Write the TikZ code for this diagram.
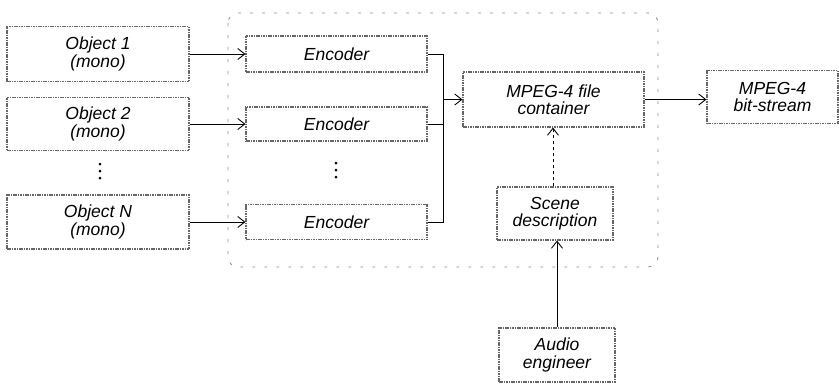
\documentclass[tikz,border=0pt]{standalone}
\usepackage{fontspec}
\setmainfont{Liberation Sans}
\usetikzlibrary{arrows.meta}
\begin{document}
\begin{tikzpicture}[x=1pt,y=-1pt,
  blk/.style={draw=black!60, line width=1.1pt, dash pattern=on 1.6pt off 0.8pt,
    rectangle, inner sep=0pt, align=center,
    font=\fontsize{17.5}{17.5}\selectfont\itshape},
  link/.style={draw=black, line width=0.9pt},
  arr/.style={link, -{Straight Barb[length=7pt,width=11pt,line width=0.9pt]}},
  grp/.style={draw=black!45, line width=0.8pt, dash pattern=on 3pt off 9pt, rounded corners=10pt},
  dot/.style={circle, fill=black, inner sep=0pt, minimum size=3pt}]
\useasboundingbox (0,0) rectangle (839,384);

% grouping frame around the encoding stage
\draw[grp] (228,13) rectangle (658,267);

% source objects
\node[blk, minimum width=182pt, minimum height=55pt] (obj1) at (98,54)  {Object 1\\(mono)};
\node[blk, minimum width=182pt, minimum height=53pt] (obj2) at (98,124) {Object 2\\(mono)};
\node[blk, minimum width=182pt, minimum height=54pt] (objN) at (98,222) {Object N\\(mono)};
\foreach \y [count=\i] in {164,171,178} \node[dot] (da\i) at (100,\y) {};

% encoders
\node[blk, minimum width=181pt, minimum height=36pt] (enc1) at (336.5,54)  {Encoder};
\node[blk, minimum width=181pt, minimum height=34pt] (enc2) at (336.5,124) {Encoder};
\node[blk, minimum width=181pt, minimum height=35pt] (encN) at (336.5,222) {Encoder};
\foreach \y [count=\i] in {163,170,177} \node[dot] (db\i) at (336,\y) {};

% container, output and scene
\node[blk, minimum width=181pt, minimum height=55pt] (cont) at (553.5,99.5) {MPEG-4 file\\container};
\node[blk, minimum width=131pt, minimum height=53pt] (bits) at (772.5,97) {MPEG-4\\bit-stream};
\node[blk, minimum width=116pt, minimum height=53pt] (scene) at (555,213.5) {Scene\\description};
\node[blk, minimum width=116pt, minimum height=54pt] (audio) at (557,355) {Audio\\engineer};

% connectors
\draw[arr] (obj1) -- (enc1);
\draw[arr] (obj2) -- (enc2);
\draw[arr] (objN) -- (encN);

\coordinate (bx) at (443,99.5);
\draw[link] (enc1.east) -| (bx);
\draw[link] (enc2.east) -| (bx);
\draw[link] (encN.east) -| (bx);
\draw[arr] (bx) -- (cont.west);

\draw[arr] (cont) -- (cont -| bits.west);
\draw[arr, dashed] (scene.north -| 553,0) -- (cont.south -| 553,0);
\draw[arr] (audio.north) -- (audio.north |- scene.south);
\end{tikzpicture}
\end{document}
